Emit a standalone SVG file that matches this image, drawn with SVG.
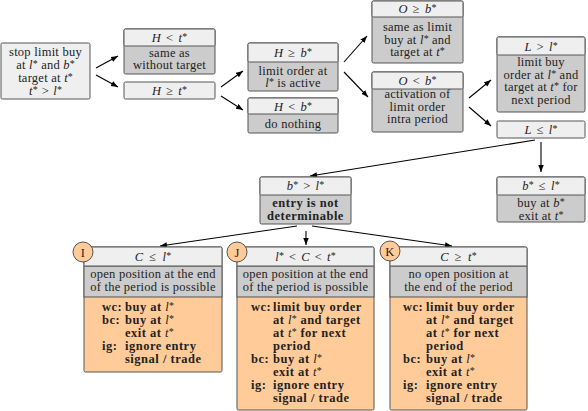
<svg xmlns="http://www.w3.org/2000/svg" width="588" height="411" viewBox="0 0 588 411">
<defs>
<marker id="ah" markerUnits="userSpaceOnUse" markerWidth="8" markerHeight="6" refX="7" refY="2.75" orient="auto">
<path d="M0,0 L7,2.75 L0,5.5 z" fill="#000"/>
</marker>
<style>
.bx{stroke:#555;stroke-width:1}
.hd{fill:#efefef}
.bd{fill:#cccccc}
.or{fill:#ffcc99}
.t{font-family:"Liberation Serif","Times New Roman",serif;font-size:12.5px;letter-spacing:0.25px;fill:#222}
.m{text-anchor:middle}
.b{font-weight:bold;letter-spacing:0.5px}
.i{font-style:italic;font-weight:normal;letter-spacing:0.25px}
.s{font-size:10px;font-style:normal;font-weight:normal;letter-spacing:0}
.c{fill:none;stroke:#000;stroke-width:1.1;marker-end:url(#ah)}
</style>
</defs>

<g id="connectors">
<line class="c" x1="96" y1="68" x2="118" y2="56"/>
<line class="c" x1="96" y1="75" x2="118" y2="87"/>
<line class="c" x1="221" y1="87" x2="243" y2="71"/>
<line class="c" x1="221" y1="96" x2="243" y2="110"/>
<line class="c" x1="344" y1="62" x2="367" y2="36"/>
<line class="c" x1="344" y1="72" x2="368" y2="97"/>
<line class="c" x1="469" y1="98" x2="491" y2="80"/>
<line class="c" x1="469" y1="107" x2="491" y2="126"/>
<line class="c" x1="541" y1="142" x2="541" y2="172"/>
<line class="c" x1="535" y1="140" x2="310" y2="176"/>
<line class="c" x1="297" y1="226" x2="160" y2="246"/>
<line class="c" x1="306" y1="231" x2="306" y2="245"/>
<line class="c" x1="312" y1="226" x2="452" y2="246"/>
</g>

<g id="start">
<rect class="bx hd" x="1" y="43" width="89" height="56" rx="1.5"/>
<text class="t m" x="45.5" y="56">stop limit buy</text>
<text class="t m" x="45.5" y="69">at <tspan class="i">l</tspan><tspan class="s" dy="-2">*</tspan><tspan dy="2"> and </tspan><tspan class="i">b</tspan><tspan class="s" dy="-2">*</tspan></text>
<text class="t m" x="45.5" y="82">target at <tspan class="i">t</tspan><tspan class="s" dy="-2">*</tspan></text>
<text class="t m" x="45.5" y="95"><tspan class="i">t</tspan><tspan class="s" dy="-2">*</tspan><tspan dy="2" dx="4">&gt;</tspan><tspan class="i" dx="4">l</tspan><tspan class="s" dy="-2">*</tspan></text>
</g>

<g id="h-lt-t">
<rect class="bx bd" x="124" y="29" width="91" height="45" rx="1.5"/>
<rect class="bx hd" x="124" y="29" width="91" height="17" rx="1.5"/>
<text class="t m" x="169.5" y="41.5"><tspan class="i">H</tspan><tspan dx="5">&lt;</tspan><tspan class="i" dx="5">t</tspan><tspan class="s" dy="-2">*</tspan></text>
<text class="t m" x="169.5" y="56.5">same as</text>
<text class="t m" x="169.5" y="69">without target</text>
</g>

<g id="h-ge-t">
<rect class="bx hd" x="124" y="82" width="91" height="17" rx="1.5"/>
<text class="t m" x="169.5" y="94.5"><tspan class="i">H</tspan><tspan dx="5">≥</tspan><tspan class="i" dx="5">t</tspan><tspan class="s" dy="-2">*</tspan></text>
</g>

<g id="h-ge-b">
<rect class="bx bd" x="248" y="43" width="90" height="48" rx="1.5"/>
<rect class="bx hd" x="248" y="43" width="90" height="19" rx="1.5"/>
<text class="t m" x="293" y="56.5"><tspan class="i">H</tspan><tspan dx="5">≥</tspan><tspan class="i" dx="5">b</tspan><tspan class="s" dy="-2">*</tspan></text>
<text class="t m" x="293" y="74.5">limit order at</text>
<text class="t m" x="293" y="87"><tspan class="i">l</tspan><tspan class="s" dy="-2">*</tspan><tspan dy="2"> is active</tspan></text>
</g>

<g id="h-lt-b">
<rect class="bx bd" x="248" y="98" width="90" height="35" rx="1.5"/>
<rect class="bx hd" x="248" y="98" width="90" height="16" rx="1.5"/>
<text class="t m" x="293" y="110.5"><tspan class="i">H</tspan><tspan dx="5">&lt;</tspan><tspan class="i" dx="5">b</tspan><tspan class="s" dy="-2">*</tspan></text>
<text class="t m" x="293" y="128">do nothing</text>
</g>

<g id="o-ge-b">
<rect class="bx bd" x="372" y="1" width="91" height="62" rx="1.5"/>
<rect class="bx hd" x="372" y="1" width="91" height="16" rx="1.5"/>
<text class="t m" x="417.5" y="13"><tspan class="i">O</tspan><tspan dx="5">≥</tspan><tspan class="i" dx="5">b</tspan><tspan class="s" dy="-2">*</tspan></text>
<text class="t m" x="417.5" y="31">same as limit</text>
<text class="t m" x="417.5" y="43.5">buy at <tspan class="i">l</tspan><tspan class="s" dy="-2">*</tspan><tspan dy="2"> and</tspan></text>
<text class="t m" x="417.5" y="56">target at <tspan class="i">t</tspan><tspan class="s" dy="-2">*</tspan></text>
</g>

<g id="o-lt-b">
<rect class="bx bd" x="372" y="72" width="91" height="60" rx="1.5"/>
<rect class="bx hd" x="372" y="72" width="91" height="17" rx="1.5"/>
<text class="t m" x="417.5" y="84.5"><tspan class="i">O</tspan><tspan dx="5">&lt;</tspan><tspan class="i" dx="5">b</tspan><tspan class="s" dy="-2">*</tspan></text>
<text class="t m" x="417.5" y="98">activation of</text>
<text class="t m" x="417.5" y="110.5">limit order</text>
<text class="t m" x="417.5" y="123">intra period</text>
</g>

<g id="l-gt-l">
<rect class="bx bd" x="497" y="37" width="88" height="75" rx="1.5"/>
<rect class="bx hd" x="497" y="37" width="88" height="18" rx="1.5"/>
<text class="t m" x="541" y="50.5"><tspan class="i">L</tspan><tspan dx="5">&gt;</tspan><tspan class="i" dx="5">l</tspan><tspan class="s" dy="-2">*</tspan></text>
<text class="t m" x="541" y="66">limit buy</text>
<text class="t m" x="541" y="78.5">order at <tspan class="i">l</tspan><tspan class="s" dy="-2">*</tspan><tspan dy="2"> and</tspan></text>
<text class="t m" x="541" y="91">target at <tspan class="i">t</tspan><tspan class="s" dy="-2">*</tspan><tspan dy="2"> for</tspan></text>
<text class="t m" x="541" y="103.5">next period</text>
</g>

<g id="l-le-l">
<rect class="bx hd" x="497" y="121" width="88" height="17" rx="1.5"/>
<text class="t m" x="541" y="133.5"><tspan class="i">L</tspan><tspan dx="5">≤</tspan><tspan class="i" dx="5">l</tspan><tspan class="s" dy="-2">*</tspan></text>
</g>

<g id="b-gt-l">
<rect class="bx bd" x="260" y="177" width="91" height="47" rx="1.5"/>
<rect class="bx hd" x="260" y="177" width="91" height="18" rx="1.5"/>
<text class="t m" x="305.5" y="190"><tspan class="i">b</tspan><tspan class="s" dy="-2">*</tspan><tspan dy="2" dx="5">&gt;</tspan><tspan class="i" dx="5">l</tspan><tspan class="s" dy="-2">*</tspan></text>
<text class="t m b" x="305.5" y="207">entry is not</text>
<text class="t m b" x="305.5" y="220">determinable</text>
</g>

<g id="b-le-l">
<rect class="bx bd" x="497" y="177" width="88" height="45" rx="1.5"/>
<rect class="bx hd" x="497" y="177" width="88" height="18" rx="1.5"/>
<text class="t m" x="541" y="190"><tspan class="i">b</tspan><tspan class="s" dy="-2">*</tspan><tspan dy="2" dx="5">≤</tspan><tspan class="i" dx="5">l</tspan><tspan class="s" dy="-2">*</tspan></text>
<text class="t m" x="541" y="206.5">buy at <tspan class="i">b</tspan><tspan class="s" dy="-2">*</tspan></text>
<text class="t m" x="541" y="219.5">exit at <tspan class="i">t</tspan><tspan class="s" dy="-2">*</tspan></text>
</g>

<g id="node-I">
<rect class="bx or" x="84" y="247" width="138" height="125" rx="1.5"/>
<rect class="bx bd" x="84" y="266" width="138" height="31"/>
<rect class="bx hd" x="84" y="247" width="138" height="19" rx="1.5"/>
<circle class="bx or" cx="83" cy="252" r="10"/>
<text class="t m" x="83" y="256.5">I</text>
<text class="t m" x="153" y="260.5"><tspan class="i">C</tspan><tspan dx="6">≤</tspan><tspan class="i" dx="6">l</tspan><tspan class="s" dy="-2">*</tspan></text>
<text class="t m" x="153" y="278">open position at the end</text>
<text class="t m" x="153" y="291">of the period is possible</text>
<text class="t b" x="102" y="311">wc:</text>
<text class="t b" x="125" y="311">buy at <tspan class="i">l</tspan><tspan class="s" dy="-2">*</tspan></text>
<text class="t b" x="102" y="324">bc:</text>
<text class="t b" x="125" y="324">buy at <tspan class="i">l</tspan><tspan class="s" dy="-2">*</tspan></text>
<text class="t b" x="125" y="337">exit at <tspan class="i">t</tspan><tspan class="s" dy="-2">*</tspan></text>
<text class="t b" x="102" y="350">ig:</text>
<text class="t b" x="125" y="350">ignore entry</text>
<text class="t b" x="125" y="363">signal / trade</text>
</g>

<g id="node-J">
<rect class="bx or" x="237" y="247" width="137" height="163" rx="1.5"/>
<rect class="bx bd" x="237" y="266" width="137" height="31"/>
<rect class="bx hd" x="237" y="247" width="137" height="19" rx="1.5"/>
<circle class="bx or" cx="237" cy="252" r="10"/>
<text class="t m" x="237" y="256.5">J</text>
<text class="t m" x="305.5" y="260.5"><tspan class="i">l</tspan><tspan class="s" dy="-2">*</tspan><tspan dy="2" dx="5">&lt;</tspan><tspan class="i" dx="5">C</tspan><tspan dx="5">&lt;</tspan><tspan class="i" dx="5">t</tspan><tspan class="s" dy="-2">*</tspan></text>
<text class="t m" x="305.5" y="278">open position at the end</text>
<text class="t m" x="305.5" y="291">of the period is possible</text>
<text class="t b" x="251" y="311">wc:</text>
<text class="t b" x="273" y="311">limit buy order</text>
<text class="t b" x="273" y="324">at <tspan class="i">l</tspan><tspan class="s" dy="-2">*</tspan><tspan dy="2"> and target</tspan></text>
<text class="t b" x="273" y="337">at <tspan class="i">t</tspan><tspan class="s" dy="-2">*</tspan><tspan dy="2"> for next</tspan></text>
<text class="t b" x="273" y="350">period</text>
<text class="t b" x="251" y="363">bc:</text>
<text class="t b" x="273" y="363">buy at <tspan class="i">l</tspan><tspan class="s" dy="-2">*</tspan></text>
<text class="t b" x="273" y="376">exit at <tspan class="i">t</tspan><tspan class="s" dy="-2">*</tspan></text>
<text class="t b" x="251" y="389">ig:</text>
<text class="t b" x="273" y="389">ignore entry</text>
<text class="t b" x="273" y="402">signal / trade</text>
</g>

<g id="node-K">
<rect class="bx or" x="390" y="247" width="137" height="163" rx="1.5"/>
<rect class="bx bd" x="390" y="266" width="137" height="31"/>
<rect class="bx hd" x="390" y="247" width="137" height="19" rx="1.5"/>
<circle class="bx or" cx="390" cy="251" r="10"/>
<text class="t m" x="390" y="255.5">K</text>
<text class="t m" x="458.5" y="260.5"><tspan class="i">C</tspan><tspan dx="6">≥</tspan><tspan class="i" dx="6">t</tspan><tspan class="s" dy="-2">*</tspan></text>
<text class="t m" x="458.5" y="278">no open position at</text>
<text class="t m" x="458.5" y="291">the end of the period</text>
<text class="t b" x="403" y="311">wc:</text>
<text class="t b" x="426" y="311">limit buy order</text>
<text class="t b" x="426" y="324">at <tspan class="i">l</tspan><tspan class="s" dy="-2">*</tspan><tspan dy="2"> and target</tspan></text>
<text class="t b" x="426" y="337">at <tspan class="i">t</tspan><tspan class="s" dy="-2">*</tspan><tspan dy="2"> for next</tspan></text>
<text class="t b" x="426" y="350">period</text>
<text class="t b" x="403" y="363">bc:</text>
<text class="t b" x="426" y="363">buy at <tspan class="i">l</tspan><tspan class="s" dy="-2">*</tspan></text>
<text class="t b" x="426" y="376">exit at <tspan class="i">t</tspan><tspan class="s" dy="-2">*</tspan></text>
<text class="t b" x="403" y="389">ig:</text>
<text class="t b" x="426" y="389">ignore entry</text>
<text class="t b" x="426" y="402">signal / trade</text>
</g>
</svg>
